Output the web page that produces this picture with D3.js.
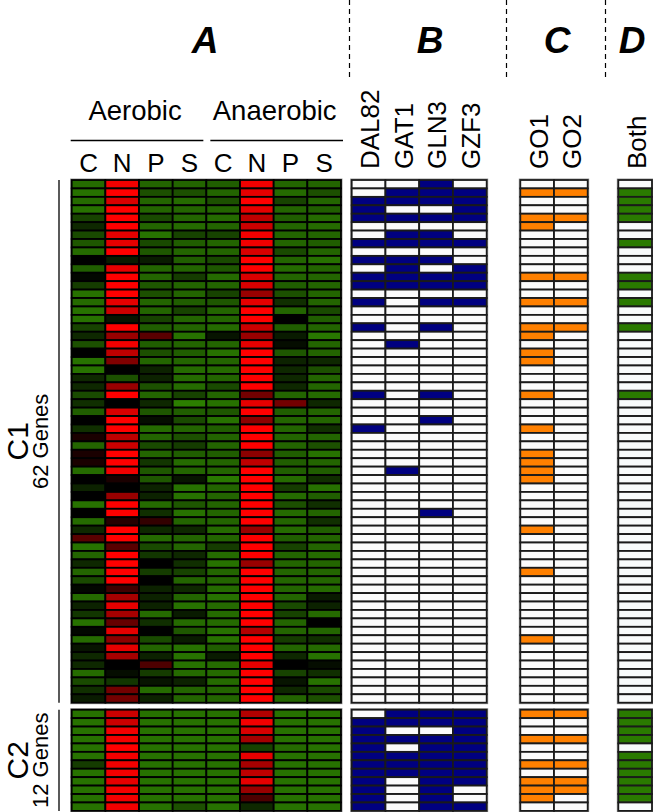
<!DOCTYPE html>
<html>
<head>
<meta charset="utf-8">
<script src="https://cdn.jsdelivr.net/npm/d3@7"></script>
<style>
  body { margin: 0; background: #fff; }
  svg { display: block; font-family: "Liberation Sans", Arial, sans-serif; }
</style>
</head>
<body>
<div id="chart"></div>
<script>
// conditions for panel A
var condLabels = ["C", "N", "P", "S", "C", "N", "P", "S"];
var tfLabels = ["DAL82", "GAT1", "GLN3", "GZF3"];
var goLabels = ["GO1", "GO2"];
var bothLabels = ["Both"];
var clusterNames = ["C1", "C2"];
var clusterCounts = ["62 Genes", "12 Genes"];

// expression, -1 = green, 0 = black, 1 = red
var heatC1 = [
  [-0.8, 0.95, -0.75, -0.75, -0.7, 0.95, -0.75, -0.75],
  [-0.85, 1.0, -0.6, -0.6, -0.75, 0.9, -0.8, -0.6],
  [-0.8, 0.85, -0.75, -0.8, -0.6, 1.0, -0.5, -0.75],
  [-0.85, 1.0, -0.75, -0.75, -0.75, 0.9, -0.75, -0.7],
  [-0.5, 1.0, -0.55, -0.75, -0.8, 0.75, -0.7, -0.8],
  [-0.3, 1.0, -0.75, -0.8, -0.75, 0.8, -0.75, -0.8],
  [-0.55, 0.9, -0.85, -0.5, -0.5, 0.95, -0.75, -0.75],
  [-0.65, 0.9, -0.55, -0.7, -0.75, 0.95, -0.75, -0.7],
  [-0.8, 1.0, -0.65, -0.75, -0.75, 0.85, -0.55, -0.75],
  [0.0, -0.2, -0.2, -0.7, -0.55, 1.0, -0.75, -0.85],
  [-0.7, 0.9, -0.75, -0.75, -0.65, 1.0, -0.8, -0.75],
  [-0.05, 1.0, -0.75, -0.45, -0.8, 0.85, -0.75, -0.75],
  [-0.45, 1.0, -0.65, -0.75, -0.75, 0.85, -0.7, -0.75],
  [-0.85, 1.0, -0.6, -0.75, -0.5, 0.6, -0.6, -0.75],
  [-0.8, 0.9, -0.75, -0.7, -0.65, 0.9, -0.35, -0.75],
  [-0.85, 0.8, -0.75, -0.5, -0.75, 1.0, -0.75, -0.55],
  [-0.85, -0.15, -0.5, -0.75, -0.75, 1.0, 0.0, -0.7],
  [-0.5, 1.0, -0.7, -0.75, -0.8, 0.8, -0.7, -0.75],
  [-0.3, 0.6, 0.35, -0.85, -0.15, 0.6, -0.2, -0.9],
  [-0.6, 0.95, -0.7, -0.75, -0.75, 0.9, -0.1, -0.75],
  [0.0, 0.75, -0.6, -0.7, -0.85, 1.0, -0.65, -0.75],
  [-0.85, 0.5, -0.75, -0.75, -0.75, 1.0, -0.25, -0.3],
  [-0.85, 0.0, -0.25, -0.8, -0.8, 1.0, -0.3, -0.6],
  [-0.3, -0.6, -0.25, -0.8, -0.75, 1.0, -0.3, -0.75],
  [-0.3, 0.6, -0.6, -0.8, -0.55, 1.0, -0.3, -0.75],
  [-0.55, 1.0, -0.75, -0.5, -0.75, 0.45, -0.75, -0.8],
  [-0.35, 0.0, -0.3, -0.95, -0.85, 0.9, 0.45, -0.3],
  [-0.7, 0.85, -0.65, -0.7, -0.65, 1.0, -0.7, -0.75],
  [0.0, 1.0, -0.1, -0.55, -0.85, 0.55, -0.75, -0.75],
  [-0.35, 1.0, -0.8, -0.75, -0.7, 1.0, -0.75, -0.35],
  [0.1, 0.75, -0.75, -0.6, -0.75, 1.0, -0.75, -0.75],
  [-0.75, 0.8, -0.55, -0.45, -0.75, 1.0, -0.75, -0.6],
  [0.1, 1.0, -0.75, -0.7, -0.7, 0.55, -0.7, -0.85],
  [0.1, 1.0, -0.4, -0.8, -0.75, 0.75, -0.7, -0.75],
  [-0.8, 0.95, -0.65, -0.75, -0.75, 1.0, -0.7, -0.7],
  [0.0, 0.1, -0.65, -0.15, -0.9, 1.0, -0.8, -0.35],
  [-0.25, 0.0, -0.25, -0.85, -0.75, 1.0, -0.45, -0.85],
  [0.0, 0.6, -0.25, -0.85, -0.75, 1.0, -0.8, -0.7],
  [-0.85, 1.0, -0.8, -0.65, -0.75, 1.0, -0.6, -0.35],
  [0.0, 1.0, -0.35, -0.85, -0.75, 1.0, -0.8, -0.75],
  [-0.8, 0.15, 0.2, -0.75, -0.75, 1.0, -0.75, -0.35],
  [-0.3, 1.0, -0.3, -0.3, -0.8, 0.6, -0.8, -0.7],
  [0.35, 1.0, -0.8, -0.75, -0.75, 1.0, -0.7, -0.75],
  [-0.85, 0.35, -0.55, -0.75, -0.45, 1.0, -0.5, -0.75],
  [-0.75, 1.0, -0.4, -0.3, -0.8, 1.0, -0.75, -0.8],
  [-0.3, 1.0, 0.0, -0.35, -0.85, 0.6, -0.75, -0.75],
  [-0.75, 1.0, -0.45, -0.5, -0.75, 1.0, -0.75, -0.75],
  [-0.55, 1.0, 0.0, -0.75, -0.75, 1.0, -0.75, -0.75],
  [-0.05, 0.25, -0.25, -0.3, -0.8, 1.0, -0.75, -0.8],
  [-0.8, 0.65, -0.25, -0.75, -0.85, 1.0, -0.75, -0.2],
  [-0.25, 0.9, -0.25, -0.85, -0.8, 1.0, -0.55, -0.25],
  [-0.4, 0.65, -0.8, -0.2, -0.8, 1.0, -0.5, -0.8],
  [-0.85, 0.4, -0.35, -0.8, -0.8, 1.0, -0.75, 0.0],
  [-0.05, 0.9, 0.0, -0.65, -0.85, 0.7, -0.75, -0.75],
  [-0.8, 0.55, -0.55, -0.2, -0.85, 1.0, -0.45, -0.35],
  [-0.15, 0.9, -0.75, -0.85, -0.7, 1.0, -0.75, -0.8],
  [-0.3, 0.65, -0.25, -0.85, -0.2, 1.0, -0.3, -0.85],
  [-0.3, 0.0, 0.3, -0.85, -0.8, 0.9, 0.0, -0.1],
  [-0.8, -0.1, -0.45, -0.8, -0.8, 1.0, -0.5, -0.35],
  [-0.55, -0.4, -0.15, -0.25, -0.8, 1.0, -0.15, -0.85],
  [-0.35, 0.45, -0.8, -0.75, -0.75, 1.0, -0.3, -0.55],
  [-0.2, 0.45, -0.25, -0.75, -0.75, 1.0, -0.75, -0.6]
];

var heatC2 = [
  [-0.85, 0.8, -0.85, -0.85, -0.85, 0.7, -0.85, -0.85],
  [-0.85, 0.8, -0.85, -0.85, -0.85, 0.95, -0.85, -0.85],
  [-0.85, 0.95, -0.85, -0.85, -0.85, 0.85, -0.85, -0.85],
  [-0.85, 0.95, -0.85, -0.85, -0.85, 0.65, -0.85, -0.85],
  [-0.85, 1.0, -0.85, -0.85, -0.85, -0.5, -0.8, -0.85],
  [-0.85, 0.95, -0.85, -0.85, -0.85, 0.9, -0.85, -0.85],
  [-0.45, 0.95, -0.85, -0.85, -0.85, 0.65, -0.85, -0.85],
  [-0.85, 0.95, -0.85, -0.85, -0.85, 0.75, -0.85, -0.85],
  [-0.85, 0.9, -0.85, -0.85, -0.85, 0.9, -0.85, -0.85],
  [-0.85, 0.95, -0.85, -0.85, -0.85, 0.6, -0.85, -0.85],
  [-0.85, 0.95, -0.85, -0.85, -0.85, 0.3, -0.85, -0.85],
  [-0.85, 0.95, -0.85, -0.6, -0.85, -0.3, -0.85, -0.85]
];

// TF binding (DAL82, GAT1, GLN3, GZF3)
var tfC1 = [
  [0,0,1,0],[0,1,1,1],[1,1,1,1],[1,0,0,1],[1,1,1,1],[0,0,0,0],[0,1,1,0],[1,1,1,1],
  [0,0,0,0],[1,1,1,0],[0,1,0,1],[1,1,1,1],[1,1,1,1],[0,0,0,0],[1,0,1,1],[0,0,0,0],
  [0,0,0,0],[1,0,1,0],[0,0,0,0],[0,1,0,0],[0,0,0,0],[0,0,0,0],[0,0,0,0],[0,0,0,0],
  [0,0,0,0],[1,0,1,0],[0,0,0,0],[0,0,0,0],[0,0,1,0],[1,0,0,0],[0,0,0,0],[0,0,0,0],
  [0,0,0,0],[0,0,0,0],[0,1,0,0],[0,0,0,0],[0,0,0,0],[0,0,0,0],[0,0,0,0],[0,0,1,0],
  [0,0,0,0],[0,0,0,0],[0,0,0,0],[0,0,0,0],[0,0,0,0],[0,0,0,0],[0,0,0,0],[0,0,0,0],
  [0,0,0,0],[0,0,0,0],[0,0,0,0],[0,0,0,0],[0,0,0,0],[0,0,0,0],[0,0,0,0],[0,0,0,0],
  [0,0,0,0],[0,0,0,0],[0,0,0,0],[0,0,0,0],[0,0,0,0],[0,0,0,0]
];
var tfC2 = [
  [0,1,1,1],[1,1,1,1],[1,0,0,1],[1,1,1,1],[1,0,1,1],[1,1,1,1],
  [1,1,1,1],[1,1,1,1],[1,0,1,1],[1,0,1,0],[1,0,1,0],[1,0,1,1]
];

// GO terms (GO1, GO2)
var goC1 = [
  [0,0],[1,1],[0,0],[0,0],[1,1],[1,0],[0,0],[0,0],[0,0],[0,0],[0,0],[1,1],[0,0],[0,0],
  [1,1],[0,0],[0,0],[1,1],[1,0],[0,0],[1,0],[1,0],[0,0],[0,0],[0,0],[1,0],[0,0],[0,0],
  [0,0],[1,0],[0,0],[0,0],[1,0],[1,0],[1,0],[1,0],[0,0],[0,0],[0,0],[0,0],[0,0],[1,0],
  [0,0],[0,0],[0,0],[0,0],[1,0],[0,0],[0,0],[0,0],[0,0],[0,0],[0,0],[0,0],[1,0],[0,0],
  [0,0],[0,0],[0,0],[0,0],[0,0],[0,0]
];
var goC2 = [[1,1],[0,0],[0,0],[1,1],[0,0],[0,0],[1,1],[0,0],[1,1],[1,1],[1,0],[0,0]];

// both TF + GO
var bothC1 = [0,1,1,1,1,0,0,1,0,0,0,1,1,0,1,0,0,1,0,0,0,0,0,0,0,1,0,0,0,0,0,
              0,0,0,0,0,0,0,0,0,0,0,0,0,0,0,0,0,0,0,0,0,0,0,0,0,0,0,0,0,0,0];
var bothC2 = [1,1,1,1,0,1,1,1,1,1,1,0];

var width = 653, height = 812;
var svg = d3.select("#chart").append("svg")
    .attr("width", width)
    .attr("height", height);

var heatColor = d3.scaleLinear()
    .domain([-1, 0, 1])
    .range(["#2e8600", "#000000", "#ff0000"]);

// column scales for each panel
var xA = d3.scaleBand().domain(d3.range(condLabels.length)).range([71.7, 341]);
var xB = d3.scaleBand().domain(d3.range(tfLabels.length)).range([351.7, 486.7]);
var xC = d3.scaleBand().domain(d3.range(goLabels.length)).range([520.3, 587.7]);
var xD = d3.scaleBand().domain(d3.range(bothLabels.length)).range([618.3, 652]);

// row scales per cluster
var yC1 = d3.scaleBand().domain(d3.range(heatC1.length)).range([180, 702.7]);
var yC2 = d3.scaleBand().domain(d3.range(heatC2.length)).range([709.7, 810.9]);

var clusters = [
  {y: yC1, heat: heatC1, tf: tfC1, go: goC1, both: bothC1},
  {y: yC2, heat: heatC2, tf: tfC2, go: goC2, both: bothC2}
];

function drawBlock(x, y, rows, fillFn, cellStroke) {
    var g = svg.append("g");
    // outer light frame
    g.append("rect")
        .attr("x", x.range()[0] - 1)
        .attr("y", y.range()[0] - 1)
        .attr("width", x.range()[1] - x.range()[0] + 2)
        .attr("height", y.range()[1] - y.range()[0] + 2)
        .attr("fill", "none")
        .attr("stroke", "#9a9a9a")
        .attr("stroke-width", 1);
    rows.forEach(function (row, i) {
        g.selectAll(null)
            .data(row)
            .enter().append("rect")
            .attr("x", (d, j) => x(j))
            .attr("y", y(i))
            .attr("width", x.bandwidth())
            .attr("height", y.bandwidth())
            .attr("fill", fillFn)
            .attr("stroke", cellStroke)
            .attr("stroke-width", 1.8);
    });
}

clusters.forEach(function (c) {
    drawBlock(xA, c.y, c.heat, d => heatColor(d), "#000");
    drawBlock(xB, c.y, c.tf, d => d ? "#000080" : "#fbfbfb", "#1a1a1a");
    drawBlock(xC, c.y, c.go, d => d ? "#ff8000" : "#fbfbfb", "#1a1a1a");
    drawBlock(xD, c.y, c.both.map(v => [v]), d => d ? "#2a7a00" : "#f8fbfb", "#1a1a1a");
});

// dashed separators
[349.5, 506.5, 605.5].forEach(function (xp) {
    svg.append("line")
        .attr("x1", xp).attr("x2", xp)
        .attr("y1", 0).attr("y2", 80)
        .attr("stroke", "#000")
        .attr("stroke-width", 1.2)
        .attr("stroke-dasharray", "5,4");
});

// panel letters
var panels = [["A", 205], ["B", 430], ["C", 557], ["D", 632]];
svg.selectAll(".panel")
    .data(panels)
    .enter().append("text")
    .attr("class", "panel")
    .attr("x", d => d[1])
    .attr("y", 53)
    .attr("text-anchor", "middle")
    .style("font-size", "37px")
    .style("font-weight", "bold")
    .style("font-style", "italic")
    .text(d => d[0]);

// aerobic / anaerobic headers
var groups = [["Aerobic", 0, 3, -4], ["Anaerobic", 4, 7, 1]];
groups.forEach(function (gr, k) {
    var x0 = xA(gr[1]), x1 = xA(gr[2]) + xA.bandwidth();
    svg.append("text")
        .attr("x", (x0 + x1) / 2 + gr[3])
        .attr("y", 120)
        .attr("text-anchor", "middle")
        .style("font-size", "27.5px")
        .text(gr[0]);
    svg.append("line")
        .attr("x1", k === 0 ? x0 - 1 : x0 + 4)
        .attr("x2", k === 0 ? x1 - 3 : x1 + 2)
        .attr("y1", 140.5).attr("y2", 140.5)
        .attr("stroke", "#000")
        .attr("stroke-width", 1.3);
});

svg.selectAll(".cond")
    .data(condLabels)
    .enter().append("text")
    .attr("class", "cond")
    .attr("x", (d, i) => xA(i) + xA.bandwidth() / 2)
    .attr("y", 172)
    .attr("text-anchor", "middle")
    .style("font-size", "26px")
    .text(d => d);

// rotated column labels
function rotLabels(labels, x) {
    svg.selectAll(null)
        .data(labels)
        .enter().append("text")
        .attr("transform", (d, i) => "translate(" + (x(i) + x.bandwidth() / 2 + 1) + ",169) rotate(-90)")
        .attr("dy", "0.36em")
        .style("font-size", "26px")
        .text(d => d);
}
rotLabels(tfLabels, xB);
rotLabels(goLabels, xC);
rotLabels(bothLabels, xD);

// cluster labels on the left
clusters.forEach(function (c, i) {
    var y0 = c.y.range()[0], y1 = c.y.range()[1];
    var cy = (y0 + y1) / 2;
    svg.append("line")
        .attr("x1", 59).attr("x2", 59)
        .attr("y1", y0).attr("y2", y1)
        .attr("stroke", "#000")
        .attr("stroke-width", 1.3);
    svg.append("text")
        .attr("transform", "translate(17," + cy + ") rotate(-90)")
        .attr("text-anchor", "middle")
        .attr("dy", "0.36em")
        .style("font-size", "30px")
        .text(clusterNames[i]);
    svg.append("text")
        .attr("transform", "translate(40," + cy + ") rotate(-90)")
        .attr("text-anchor", "middle")
        .attr("dy", "0.36em")
        .style("font-size", "22px")
        .text(clusterCounts[i]);
});
</script>
</body>
</html>
